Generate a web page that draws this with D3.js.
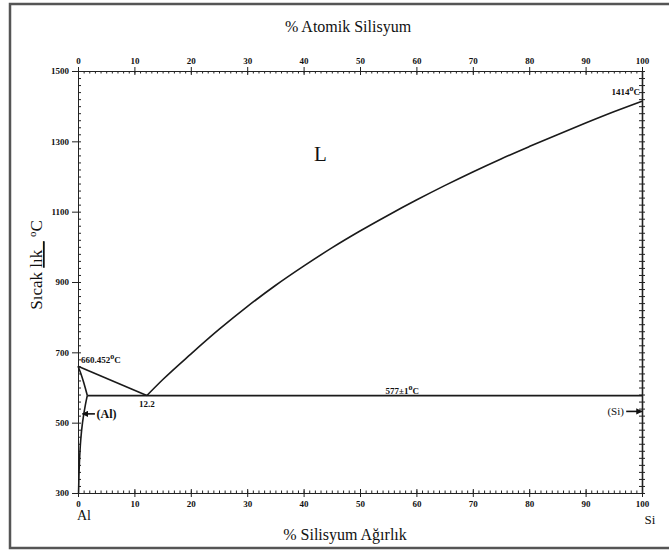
<!DOCTYPE html>
<html>
<head>
<meta charset="utf-8">
<script src="https://cdn.jsdelivr.net/npm/d3@7"></script>
<style>
  body { margin: 0; background: #fff; }
  svg text { font-family: 'Liberation Serif', 'DejaVu Serif', serif; fill: #111; }
  .axis path, .axis line { stroke: #222; }
  .axis text { font-size: 9px; font-weight: bold; font-family: 'Liberation Serif', serif; }
</style>
</head>
<body>
<svg id="chart" width="669" height="551"></svg>
<script>
// Al-Si phase diagram, weight % Si vs temperature
var tempTicks = [300, 500, 700, 900, 1100, 1300, 1500];
var wtTicks = [0, 10, 20, 30, 40, 50, 60, 70, 80, 90, 100];
var atTicks = [0, 10, 20, 30, 40, 50, 60, 70, 80, 90, 100];

// liquidus on the Si side (wt% Si, degC)
var liquidusSi = [
  [12.2, 577], [15, 622], [20, 695], [25, 765], [30, 830], [35, 890],
  [40, 945], [45, 997], [50, 1045], [55, 1090], [60, 1133], [65, 1174],
  [70, 1213], [75, 1250], [80, 1285], [85, 1319], [90, 1352], [95, 1384], [100, 1414]
];
// liquidus on the Al side
var liquidusAl = [[0, 660.452], [12.2, 577]];
// solidus of (Al)
var solidusAl = [[0, 660.452], [0.5, 640], [1.0, 615], [1.4, 592], [1.65, 577]];
// solvus of (Al)
var solvusAl = [[1.65, 577], [1.3, 550], [0.8, 500], [0.48, 450], [0.29, 400], [0.17, 350], [0.1, 300]];
// eutectic line
var eutectic = [[1.65, 577], [100, 577]];

var svg = d3.select('#chart');

var x = d3.scaleLinear().domain([0, 100]).range([78, 642]);
var y = d3.scaleLinear().domain([300, 1500]).range([493, 71]);

// outer frame
svg.append('rect')
  .attr('x', 10).attr('y', 4)
  .attr('width', 680).attr('height', 544)
  .attr('fill', 'none')
  .attr('stroke', '#555')
  .attr('stroke-width', 2.5);

// bottom axis (weight %)
svg.append('g')
  .attr('class', 'axis')
  .attr('transform', 'translate(0,' + y(300) + ')')
  .call(d3.axisBottom(x).tickValues(d3.range(0, 101, 1)).tickSize(-2.5).tickFormat(''))
  .call(function(g) { g.select('.domain').remove(); });
svg.append('g')
  .attr('class', 'axis')
  .attr('transform', 'translate(0,' + y(300) + ')')
  .call(d3.axisBottom(x).tickValues(wtTicks).tickSize(4).tickPadding(4).tickSizeOuter(0))
  .call(function(g) {
    g.selectAll('.tick line').attr('y1', -4);
  });

// top axis (atomic %)
svg.append('g')
  .attr('class', 'axis')
  .attr('transform', 'translate(0,' + y(1500) + ')')
  .call(d3.axisTop(x).tickValues(d3.range(0, 101, 1)).tickSize(-2.5).tickFormat(''))
  .call(function(g) { g.select('.domain').remove(); });
svg.append('g')
  .attr('class', 'axis')
  .attr('transform', 'translate(0,' + y(1500) + ')')
  .call(d3.axisTop(x).tickValues(atTicks).tickSize(4).tickPadding(3).tickSizeOuter(0))
  .call(function(g) {
    g.selectAll('.tick line').attr('y1', 4);
  });

// left axis
svg.append('g')
  .attr('class', 'axis')
  .attr('transform', 'translate(' + x(0) + ',0)')
  .call(d3.axisLeft(y).tickValues(d3.range(300, 1501, 20)).tickSize(-3).tickFormat(''))
  .call(function(g) { g.select('.domain').remove(); });
svg.append('g')
  .attr('class', 'axis')
  .attr('transform', 'translate(' + x(0) + ',0)')
  .call(d3.axisLeft(y).tickValues(tempTicks).tickSize(6).tickPadding(3).tickSizeOuter(0).tickFormat(d3.format('d')));

// right axis
svg.append('g')
  .attr('class', 'axis')
  .attr('transform', 'translate(' + x(100) + ',0)')
  .call(d3.axisRight(y).tickValues(d3.range(300, 1501, 20)).tickSize(3).tickFormat(''))
  .call(function(g) {
    g.select('.domain').remove();
    g.selectAll('.tick line').attr('x1', -3);
  });
svg.append('g')
  .attr('class', 'axis')
  .attr('transform', 'translate(' + x(100) + ',0)')
  .call(d3.axisRight(y).tickValues(d3.range(300, 1501, 100)).tickSize(0).tickFormat('').tickSizeOuter(0))
  .select('.domain').attr('stroke-width', 1.6);

// phase boundaries
function path(curve) {
  return d3.line()
    .x(function(d) { return x(d[0]); })
    .y(function(d) { return y(d[1]); })
    .curve(curve || d3.curveLinear);
}

var curves = svg.append('g')
  .attr('fill', 'none')
  .attr('stroke', '#1a1a1a')
  .attr('stroke-width', 1.6);

curves.append('path').attr('d', path(d3.curveMonotoneX)(liquidusSi));
curves.append('path').attr('d', path()(liquidusAl));
curves.append('path').attr('d', path(d3.curveMonotoneY)(solidusAl.slice().reverse()));
curves.append('path').attr('d', path(d3.curveMonotoneY)(solvusAl.slice().reverse()));
curves.append('path').attr('d', path()(eutectic));

// arrows for (Al) and (Si)
svg.append('defs').append('marker')
  .attr('id', 'head')
  .attr('viewBox', '0 0 10 10')
  .attr('refX', 9).attr('refY', 5)
  .attr('markerWidth', 4).attr('markerHeight', 4)
  .attr('orient', 'auto')
  .append('path').attr('d', 'M0,0L10,5L0,10z').attr('fill', '#111');

svg.append('line')
  .attr('x1', x(3)).attr('y1', y(525))
  .attr('x2', x(0.8)).attr('y2', y(525))
  .attr('stroke', '#111').attr('stroke-width', 1.6)
  .attr('marker-end', 'url(#head)');
svg.append('text')
  .attr('x', x(3.3)).attr('y', y(525) + 4)
  .attr('font-size', 12).attr('font-weight', 'bold')
  .text('(Al)');

svg.append('line')
  .attr('x1', x(97.2)).attr('y1', y(532))
  .attr('x2', x(100)).attr('y2', y(532))
  .attr('stroke', '#111').attr('stroke-width', 1.6)
  .attr('marker-end', 'url(#head)');
svg.append('text')
  .attr('x', x(96.8)).attr('y', y(532) + 4)
  .attr('text-anchor', 'end')
  .attr('font-size', 11)
  .text('(Si)');

// annotations
function degLabel(tx, ty, anchor, value) {
  var t = svg.append('text')
    .attr('x', tx).attr('y', ty)
    .attr('text-anchor', anchor)
    .attr('font-size', 9).attr('font-weight', 'bold');
  t.append('tspan').text(value);
  t.append('tspan').attr('font-size', 8).attr('dy', -4).text('o');
  t.append('tspan').attr('dy', 4).text('C');
}
degLabel(x(0) + 3, y(660.452) - 3, 'start', '660.452');
degLabel(x(57.5), y(577) - 2, 'middle', '577±1');
degLabel(x(100) - 2, y(1414) - 6, 'end', '1414');

svg.append('text')
  .attr('x', x(12.2)).attr('y', y(577) + 11)
  .attr('text-anchor', 'middle')
  .attr('font-size', 9).attr('font-weight', 'bold')
  .text('12.2');

svg.append('text')
  .attr('x', x(43)).attr('y', y(1245))
  .attr('text-anchor', 'middle')
  .attr('font-size', 21)
  .text('L');

// titles
svg.append('text')
  .attr('x', 348).attr('y', 32)
  .attr('text-anchor', 'middle')
  .attr('font-size', 16)
  .text('% Atomik Silisyum');

svg.append('text')
  .attr('x', 345).attr('y', 540)
  .attr('text-anchor', 'middle')
  .attr('font-size', 16)
  .text('% Silisyum Ağırlık');

svg.append('text')
  .attr('x', x(0) + 6).attr('y', 520)
  .attr('text-anchor', 'middle')
  .attr('font-size', 14)
  .text('Al');

svg.append('text')
  .attr('x', x(100) + 8).attr('y', 524)
  .attr('text-anchor', 'middle')
  .attr('font-size', 13)
  .text('Si');

var yTitle = svg.append('text')
  .attr('transform', 'translate(42,265) rotate(-90)')
  .attr('text-anchor', 'middle')
  .attr('font-size', 17);
yTitle.append('tspan').text('Sıcak ');
yTitle.append('tspan').attr('text-decoration', 'underline').text('lık_');
yTitle.append('tspan').text('  ');
yTitle.append('tspan').attr('font-size', 11).attr('dy', -6).text('o');
yTitle.append('tspan').attr('dy', 6).text('C');
</script>
</body>
</html>
